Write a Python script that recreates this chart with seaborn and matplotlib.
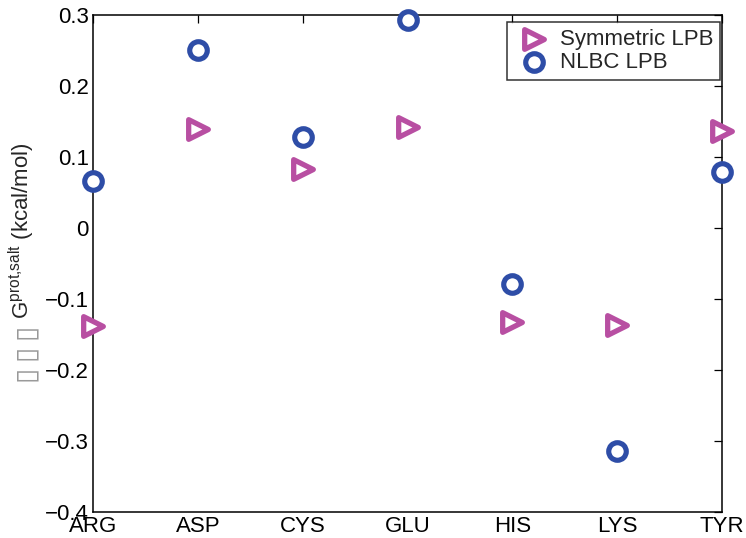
import matplotlib
matplotlib.use("Agg")
import matplotlib.pyplot as plt
import seaborn as sns
import pandas as pd

residues = ["ARG", "ASP", "CYS", "GLU", "HIS", "LYS", "TYR"]
symmetric_lpb = [-0.138, 0.139, 0.083, 0.142, -0.132, -0.137, 0.137]
nlbc_lpb = [0.066, 0.251, 0.128, 0.293, -0.079, -0.314, 0.079]
y_ticks = [-0.4, -0.3, -0.2, -0.1, 0, 0.1, 0.2, 0.3]
y_tick_labels = ["\u22120.4", "\u22120.3", "\u22120.2", "\u22120.1", "0", "0.1", "0.2", "0.3"]

sns.set_style("white")
plt.rcParams["font.family"] = ["Liberation Sans", "DejaVu Sans"]
plt.rcParams["mathtext.fontset"] = "custom"
plt.rcParams["mathtext.rm"] = "Liberation Sans"
plt.rcParams["mathtext.it"] = "Liberation Sans"

df = pd.DataFrame({"pos": range(len(residues)),
                   "sym": symmetric_lpb, "nlbc": nlbc_lpb})

W, H = 746, 538
fig = plt.figure(figsize=(W / 100, H / 100), dpi=100)
left, right, top, bottom = 93, 722, 15, 512
ax = fig.add_axes([left / W, (H - bottom) / H, (right - left) / W, (bottom - top) / H])

magenta = "#B84FA2"
blue = "#2E4DA7"

sns.scatterplot(data=df, x="pos", y="sym", ax=ax, marker=">", s=200,
                facecolor="white", edgecolor=magenta, linewidth=3.8,
                label="Symmetric LPB", clip_on=False, zorder=3)
sns.scatterplot(data=df, x="pos", y="nlbc", ax=ax, marker="o", s=160,
                facecolor="white", edgecolor=blue, linewidth=3.7,
                label="NLBC LPB", clip_on=False, zorder=3)

ax.set_xlim(0, len(residues) - 1)
ax.set_ylim(-0.4, 0.3)
ax.set_xticks(range(len(residues)))
ax.set_xticklabels(residues)
ax.set_yticks(y_ticks)
ax.set_yticklabels(y_tick_labels)
ax.set_xlabel("")
ax.set_ylabel("")
ax.tick_params(direction="in", top=True, right=True, length=6, width=0.9,
               labelsize=16, pad=3, colors="black")
ax.tick_params(axis="x", pad=3)
for sp in ax.spines.values():
    sp.set_visible(True)
    sp.set_color("black")
    sp.set_linewidth(1.1)

leg = ax.legend(loc="upper right", bbox_to_anchor=(0.997, 0.986), fontsize=16,
                frameon=True, fancybox=False, edgecolor="black",
                borderpad=0.3, labelspacing=0.12, handletextpad=0.2,
                handlelength=1.9, borderaxespad=0.0)
leg.get_frame().set_linewidth(1.1)

fig.text(0.030, (H - 319) / H, r"G$^{\rm prot{,}salt}$ (kcal/mol)",
         rotation=90, ha="center", va="bottom", fontsize=16)
for yc in (331, 352, 373):
    fig.text(25 / W, (H - yc) / H, "\u25af", rotation=90, ha="center",
             va="center", fontsize=20, color="#999999", family=["DejaVu Sans"])

fig.savefig("out.png", dpi=100)
